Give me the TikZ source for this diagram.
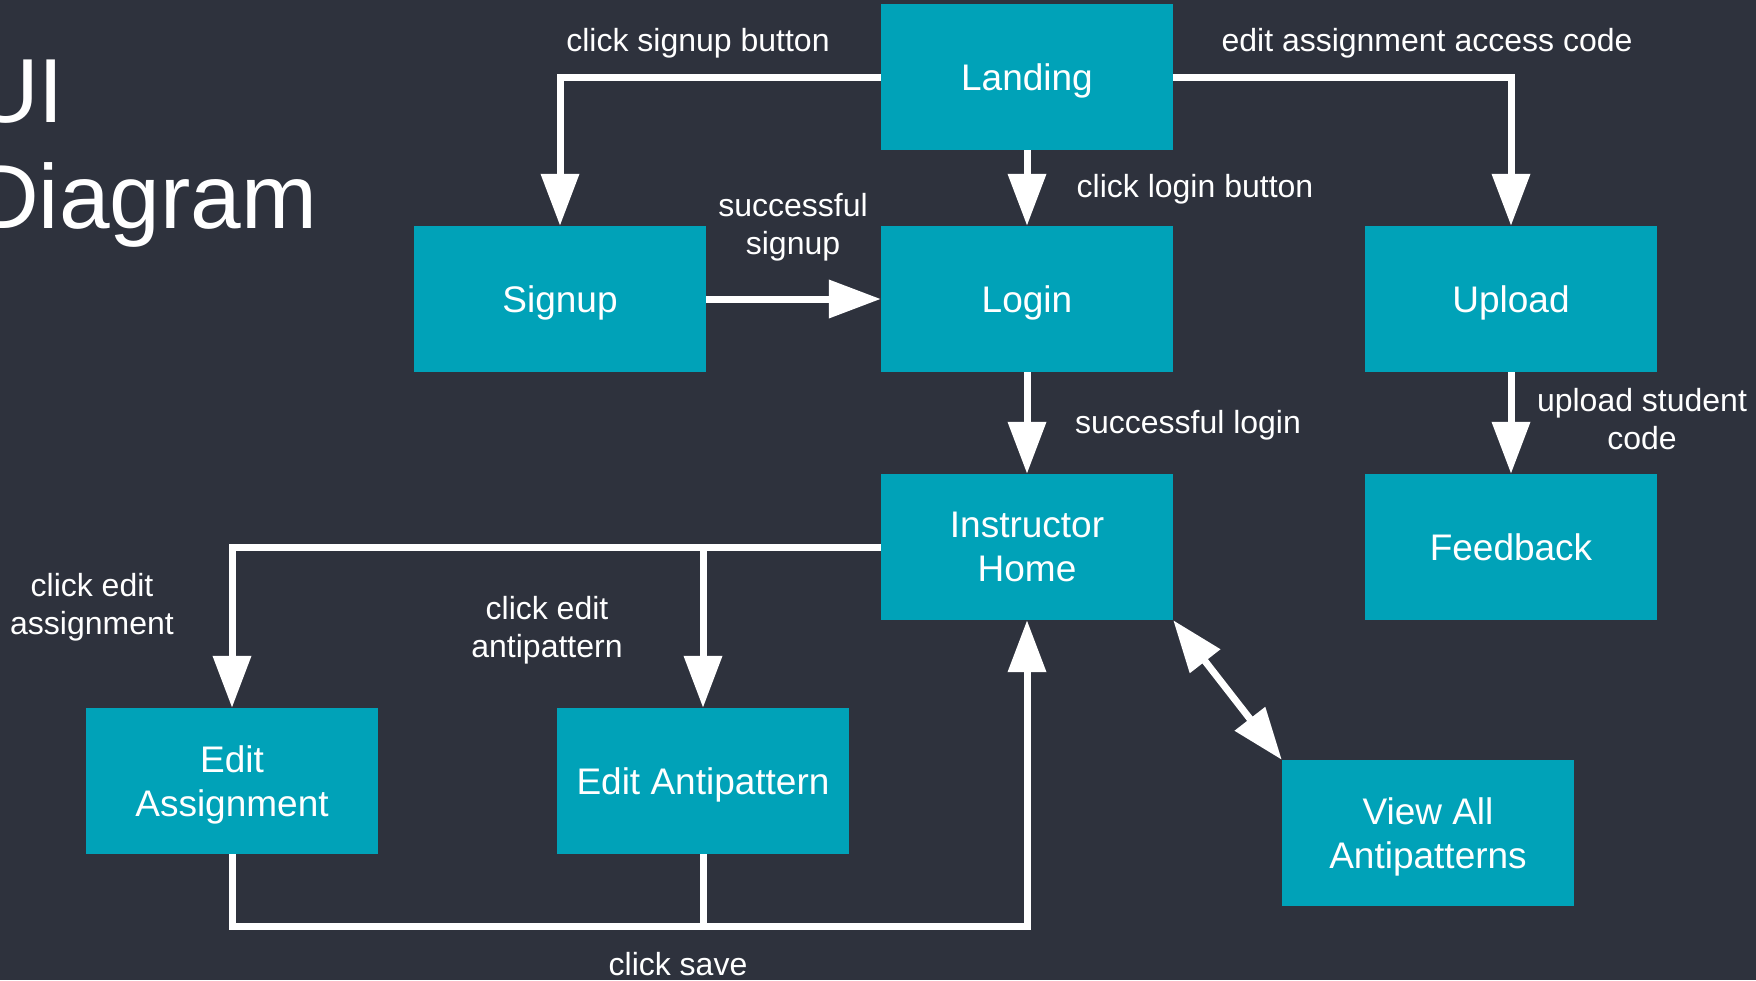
\documentclass[tikz,border=0pt]{standalone}
\usepackage{fontspec}
\setmainfont{Liberation Sans}
\usetikzlibrary{arrows.meta}
\definecolor{bg}{HTML}{2E323D}
\definecolor{boxc}{HTML}{00A2B8}
\newcommand{\boxfont}{\fontsize{37}{44}\selectfont}
\newcommand{\lblfont}{\fontsize{32}{38}\selectfont}
\newcommand{\titlefont}{\fontsize{91}{100}\selectfont}
\tikzset{
  stbox/.style={fill=boxc, minimum width=292pt, minimum height=146pt, text=white, font=\boxfont, align=center, inner sep=0pt, text depth=0pt},
  lbl/.style={text=white, font=\lblfont, align=center, inner sep=0pt},
  ttl/.style={text=white, font=\titlefont, inner sep=0pt, anchor=base west},
  line/.style={draw=white, line width=7pt},
  conn/.style={line, -{Triangle[length=52pt,width=37pt]}},
  dconn/.style={line, {Triangle[length=52pt,width=37pt]}-{Triangle[length=52pt,width=37pt]}},
}
\begin{document}
\begin{tikzpicture}[x=1pt,y=-1pt]
\useasboundingbox (0,0) rectangle (1756,980);
\clip (0,0) rectangle (1756,980);
\fill[bg] (0,0) rectangle (1756,980);

% title
\node[ttl] (t1) at (-27,122) {UI};
\node[ttl] (t2) at (-27,228) {Diagram};

% boxes
\node[stbox] (landing) at (1027,77) {Landing};
\node[stbox] (signup) at (560,299) {Signup};
\node[stbox] (login) at (1027,299) {Login};
\node[stbox] (upload) at (1511,299) {Upload};
\node[stbox] (home) at (1027,547) {Instructor\\Home};
\node[stbox] (feedback) at (1511,547) {Feedback};
\node[stbox] (ea) at (232,781) {Edit\\Assignment};
\node[stbox] (eap) at (703,781) {Edit Antipattern};
\node[stbox] (va) at (1428,833) {View All\\Antipatterns};

% connectors
\draw[conn] (landing.west) -| (signup.north);
\draw[conn] (landing.east) -| (upload.north);
\draw[conn] (landing.south) -- (login.north);
\draw[conn] (signup.east) -- (login.west);
\draw[conn] (login.south) -- (home.north);
\draw[conn] (upload.south) -- (feedback.north);
\draw[conn] (home.west) -| (ea.north);
\draw[conn] (eap.north |- home.west) -- (eap.north);
\coordinate (savey) at (0,926);
\coordinate (save) at (home.south |- savey);
\draw[conn] (ea.south) |- (save) -- (home.south);
\draw[line] (eap.south) -- (eap.south |- save);
\draw[dconn] (home.south east) -- (va.north west);

% labels
\node[lbl] (l1) at (698,43.5) {click signup button};
\node[lbl] (l2) at (1427,43.5) {edit assignment access code};
\node[lbl] (l3) at (1195,189.5) {click login button};
\node[lbl] (l4) at (793,227.5) {successful\\signup};
\node[lbl] (l5) at (1188,425.5) {successful login};
\node[lbl] (l6) at (1642,419) {upload student\\code};
\node[lbl] (l7) at (92,607) {click edit\\assignment};
\node[lbl] (l8) at (547,630) {click edit\\antipattern};
\node[lbl] (l9) at (678,964) {click save};
\end{tikzpicture}
\end{document}
